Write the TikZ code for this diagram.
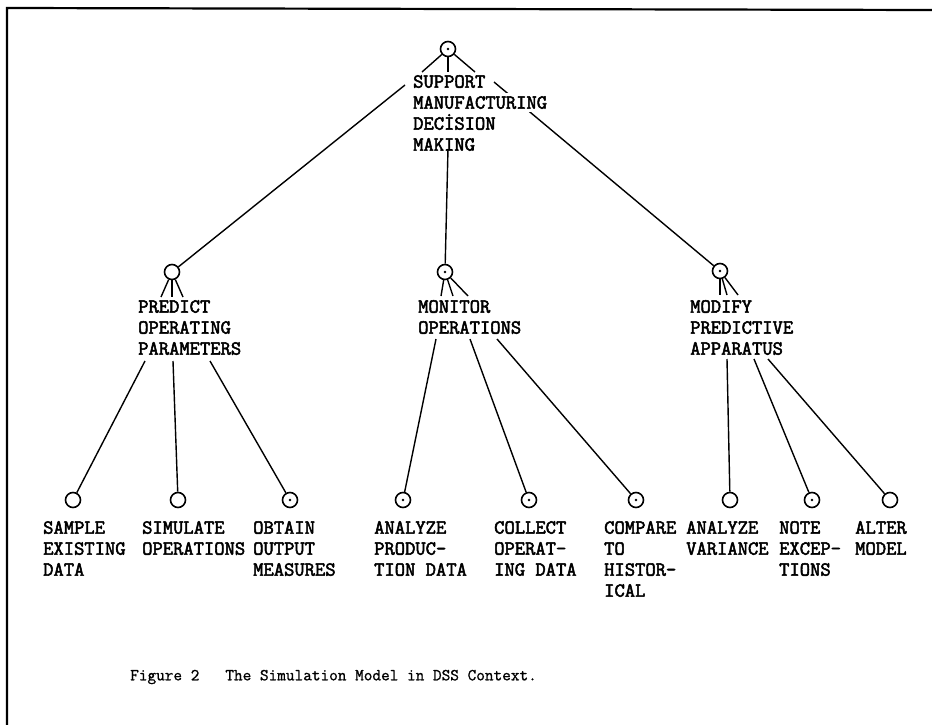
\documentclass[tikz,border=0pt]{standalone}
\usepackage{fontspec}
\newfontfamily\typewr[FakeBold=2.6]{Latin Modern Mono}
\newfontfamily\captw[FakeBold=1]{Latin Modern Mono}
\newcommand\knockout[1]{\rlap{\kern-\fboxsep\colorbox{white}{\phantom{#1}}}#1}
\tikzset{
  ring/.style={circle,draw,line width=1.6pt,minimum size=15pt,inner sep=0pt},
  ringdot/.style={ring,path picture={\fill (path picture bounding box.center) circle (1.3pt);}},
  lbl/.style={anchor=north west,inner sep=0pt,align=left,font=\typewr\fontsize{20}{21}\selectfont},
  conn/.style={line width=1.4pt}
}

\begin{document}
\begin{tikzpicture}[x=1pt,y=-1pt]
\useasboundingbox (0,0) rectangle (932,725);
\draw[line width=2.2pt] (932,10) -- (7,8) -- (7,725);

\node[ringdot] (sup) at (448,49) {};
\node[ring] (pre) at (172,272) {};
\node[ringdot] (mon) at (445,272) {};
\node[ringdot] (mod) at (720,271) {};

\node[ring] (sam) at (73,500) {};
\node[ring] (sim) at (178,500) {};
\node[ringdot] (obt) at (290,500) {};
\node[ringdot] (anp) at (403,500) {};
\node[ringdot] (col) at (529,500) {};
\node[ringdot] (cmp) at (636,500) {};
\node[ring] (anv) at (730,500) {};
\node[ringdot] (not) at (812,500) {};
\node[ring] (alt) at (890,500) {};

\foreach \n/\x in {1/422,2/448,3/475} \coordinate (sup\n) at (\x,72);
\foreach \n/\x in {1/161,2/172,3/183} \coordinate (pre\n) at (\x,297);
\foreach \n/\x in {1/441,2/453,3/468} \coordinate (mon\n) at (\x,296);
\foreach \n/\x in {1/720,2/727,3/738} \coordinate (mod\n) at (\x,295);
\foreach \n in {sup,pre,mon,mod}
  \foreach \k in {1,2,3} \draw[conn] (\n) -- (\n\k);

\coordinate (supw) at (405,85);
\coordinate (sups) at (448,149);
\coordinate (supe) at (494,82);
\draw[conn] (supw) -- (pre);
\draw[conn] (sups) -- (mon);
\draw[conn] (supe) -- (mod);

\coordinate (prea) at (145,361);
\coordinate (preb) at (173,361);
\coordinate (prec) at (210,361);
\coordinate (mona) at (436,339);
\coordinate (monb) at (470,339);
\coordinate (monc) at (497,339);
\coordinate (moda) at (727,359);
\coordinate (modb) at (754,359);
\coordinate (modc) at (768,359);
\draw[conn] (prea) -- (sam);
\draw[conn] (preb) -- (sim);
\draw[conn] (prec) -- (obt);
\draw[conn] (mona) -- (anp);
\draw[conn] (monb) -- (col);
\draw[conn] (monc) -- (cmp);
\draw[conn] (moda) -- (anv);
\draw[conn] (modb) -- (not);
\draw[conn] (modc) -- (alt);

\node[lbl] (suptxt) at (413,75) {SUPPORT\\\knockout{MANUFACTURING}\\DECİSION\\MAKING};
\node[lbl] (pretxt) at (138,300) {PREDICT\\OPERATING\\PARAMETERS};
\node[lbl] (montxt) at (418,300) {MONITOR\\OPERATIONS};
\node[lbl] (modtxt) at (690,300) {MODIFY\\PREDICTIVE\\APPARATUS};

\node[lbl] (samtxt) at (43,521) {SAMPLE\\EXISTING\\DATA};
\node[lbl] (simtxt) at (142,521) {SIMULATE\\OPERATIONS};
\node[lbl] (obttxt) at (253,521) {OBTAIN\\OUTPUT\\MEASURES};
\node[lbl] (anptxt) at (374,521) {ANALYZE\\PRODUC-\\TION DATA};
\node[lbl] (coltxt) at (494,521) {COLLECT\\OPERAT-\\ING DATA};
\node[lbl] (cmptxt) at (604,521) {COMPARE\\TO\\HISTOR-\\ICAL};
\node[lbl] (anvtxt) at (686,521) {ANALYZE\\VARIANCE};
\node[lbl] (nottxt) at (779,521) {NOTE\\EXCEP-\\TIONS};
\node[lbl] (alttxt) at (855,521) {ALTER\\MODEL};

\node[anchor=west,inner sep=0pt,font=\captw\fontsize{16.8}{19}\selectfont] (caption) at (130,677) {Figure 2\ \ \ The Simulation Model in DSS Context.};
\end{tikzpicture}
\end{document}
